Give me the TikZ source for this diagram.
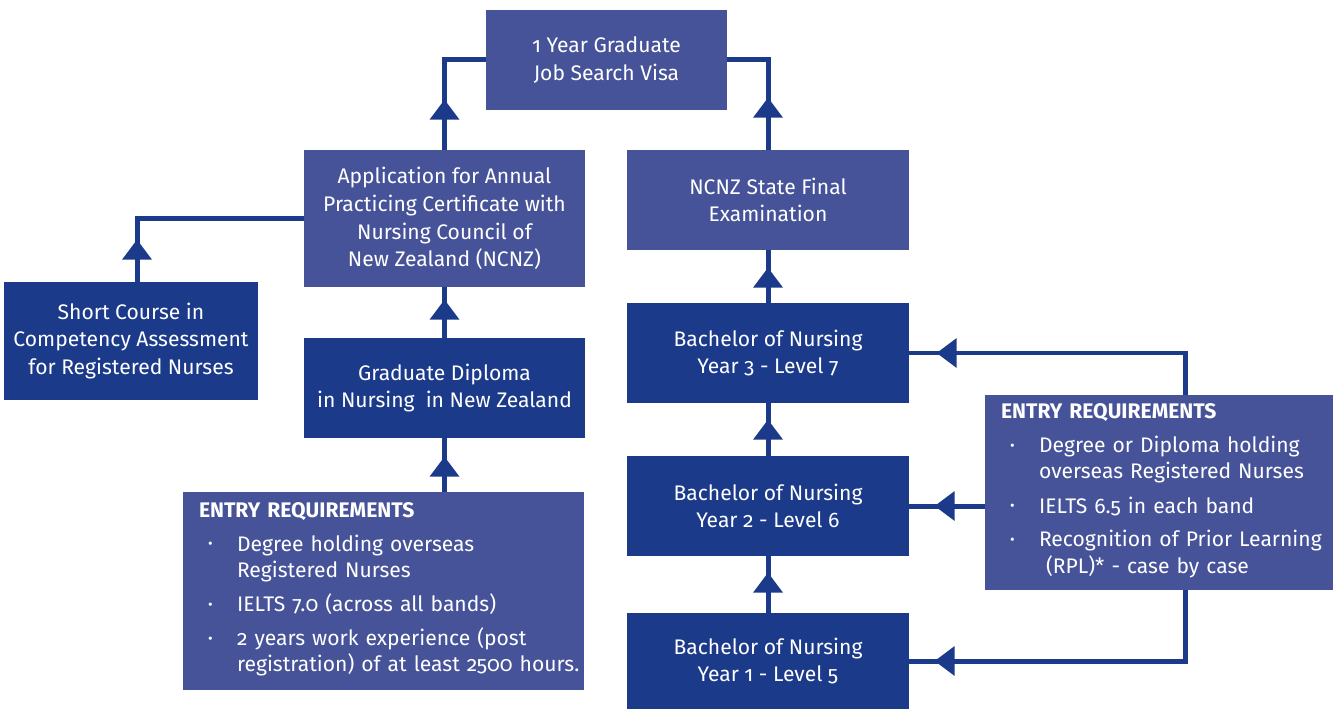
\documentclass[tikz,border=0pt]{standalone}
\usepackage{fontspec}
\setmainfont{Fira Sans}[Numbers=OldStyle]
\usepackage{tikz}
\usetikzlibrary{arrows.meta,decorations.markings}

\definecolor{lightblue}{RGB}{70,83,153}
\definecolor{darkblue}{RGB}{27,58,138}

\newcommand{\nodefont}{\fontsize{12}{15.8}\selectfont}
\newcommand{\reqitem}[1]{\par\vspace{0.12cm}\noindent\makebox[0.76cm][l]{\hspace{0.18cm}\raisebox{0.2ex}{\footnotesize•}}{\renewcommand{\arraystretch}{0.95}\begin{tabular}[t]{@{}l@{}}#1\end{tabular}}}

\begin{document}
\begin{tikzpicture}[x=0.02cm,y=-0.02cm]
        \useasboundingbox (0,0) rectangle (1338,709);

        \begin{scope}[every node/.style={fill=lightblue,text=white,align=center,inner sep=0pt,font=\nodefont}]
            \node (visa) [minimum width=4.82cm,minimum height=2cm] at (606.5,60) {1 Year Graduate\\Job Search Visa};
            \node (apc) [minimum width=5.62cm,minimum height=2.74cm] at (444.5,218.5) {Application for Annual\\Practicing Certificate with\\Nursing Council of\\New Zealand (NCNZ)};
            \node (exam) [minimum width=5.64cm,minimum height=2cm] at (768,200) {NCNZ State Final\\Examination};
            \node (req1) [minimum width=8.02cm,minimum height=3.96cm,text width=7.38cm,inner xsep=0.32cm,align=left] at (383.5,591) {%
                {\bfseries ENTRY REQUIREMENTS}
                \reqitem{Degree holding overseas\\Registered Nurses}
                \reqitem{IELTS 7.0 (across all bands)}
                \reqitem{2 years work experience (post\\registration) of at least 2500 hours.}};
            \node (req2) [minimum width=6.96cm,minimum height=3.9cm,text width=6.32cm,inner xsep=0.32cm,align=left] at (1159,492.5) {%
                {\bfseries ENTRY REQUIREMENTS}
                \reqitem{Degree or Diploma holding\\overseas Registered Nurses}
                \reqitem{IELTS 6.5 in each band}
                \reqitem{Recognition of Prior Learning\\\ (RPL)* - case by case}};
        \end{scope}

        \begin{scope}[every node/.style={fill=darkblue,text=white,align=center,inner sep=0pt,font=\nodefont}]
            \node (course) [minimum width=5.08cm,minimum height=2.36cm] at (131,341) {Short Course in\\Competency Assessment\\for Registered Nurses};
            \node (gdip) [minimum width=5.62cm,minimum height=2cm] at (444.5,388) {Graduate Diploma\\in Nursing\ \ in New Zealand};
            \node (bn3) [minimum width=5.64cm,minimum height=2cm] at (768,353) {Bachelor of Nursing\\Year 3 - Level 7};
            \node (bn2) [minimum width=5.64cm,minimum height=2cm] at (768,506) {Bachelor of Nursing\\Year 2 - Level 6};
            \node (bn1) [minimum width=5.64cm,minimum height=1.92cm] at (768,661) {Bachelor of Nursing\\Year 1 - Level 5};
        \end{scope}

        \begin{scope}[draw=darkblue,line width=0.1cm,
                      tipat/.style={postaction={decorate,decoration={markings,
                          mark=at position #1 with {\arrow{Triangle[length=0.4cm,width=0.6cm,line width=0pt]}}}}}]
            \draw [tipat=1cm] (apc.north) |- (visa.west);
            \draw [tipat=1.04cm] (exam.north) |- (visa.east);
            \draw [tipat=0.84cm] ([xshift=0.12cm]course.north) |- (apc.west);
            \draw [tipat=0.76cm] (gdip.north) -- (apc.south);
            \draw [tipat=0.7cm] (gdip.south |- req1.north) -- (gdip.south);
            \draw [tipat=0.7cm] (bn3.north) -- (exam.south);
            \draw [tipat=0.72cm] (bn2.north) -- (bn3.south);
            \draw [tipat=0.8cm] (bn1.north) -- (bn2.south);
            \draw [tipat=5.8cm] ([xshift=0.52cm]req2.north) |- (bn3.east);
            \draw [tipat=1cm] (req2.west |- bn2.east) -- (bn2.east);
            \draw [tipat=6.42cm] ([xshift=0.52cm]req2.south) |- (bn1.east);
        \end{scope}
\end{tikzpicture}
\end{document}
